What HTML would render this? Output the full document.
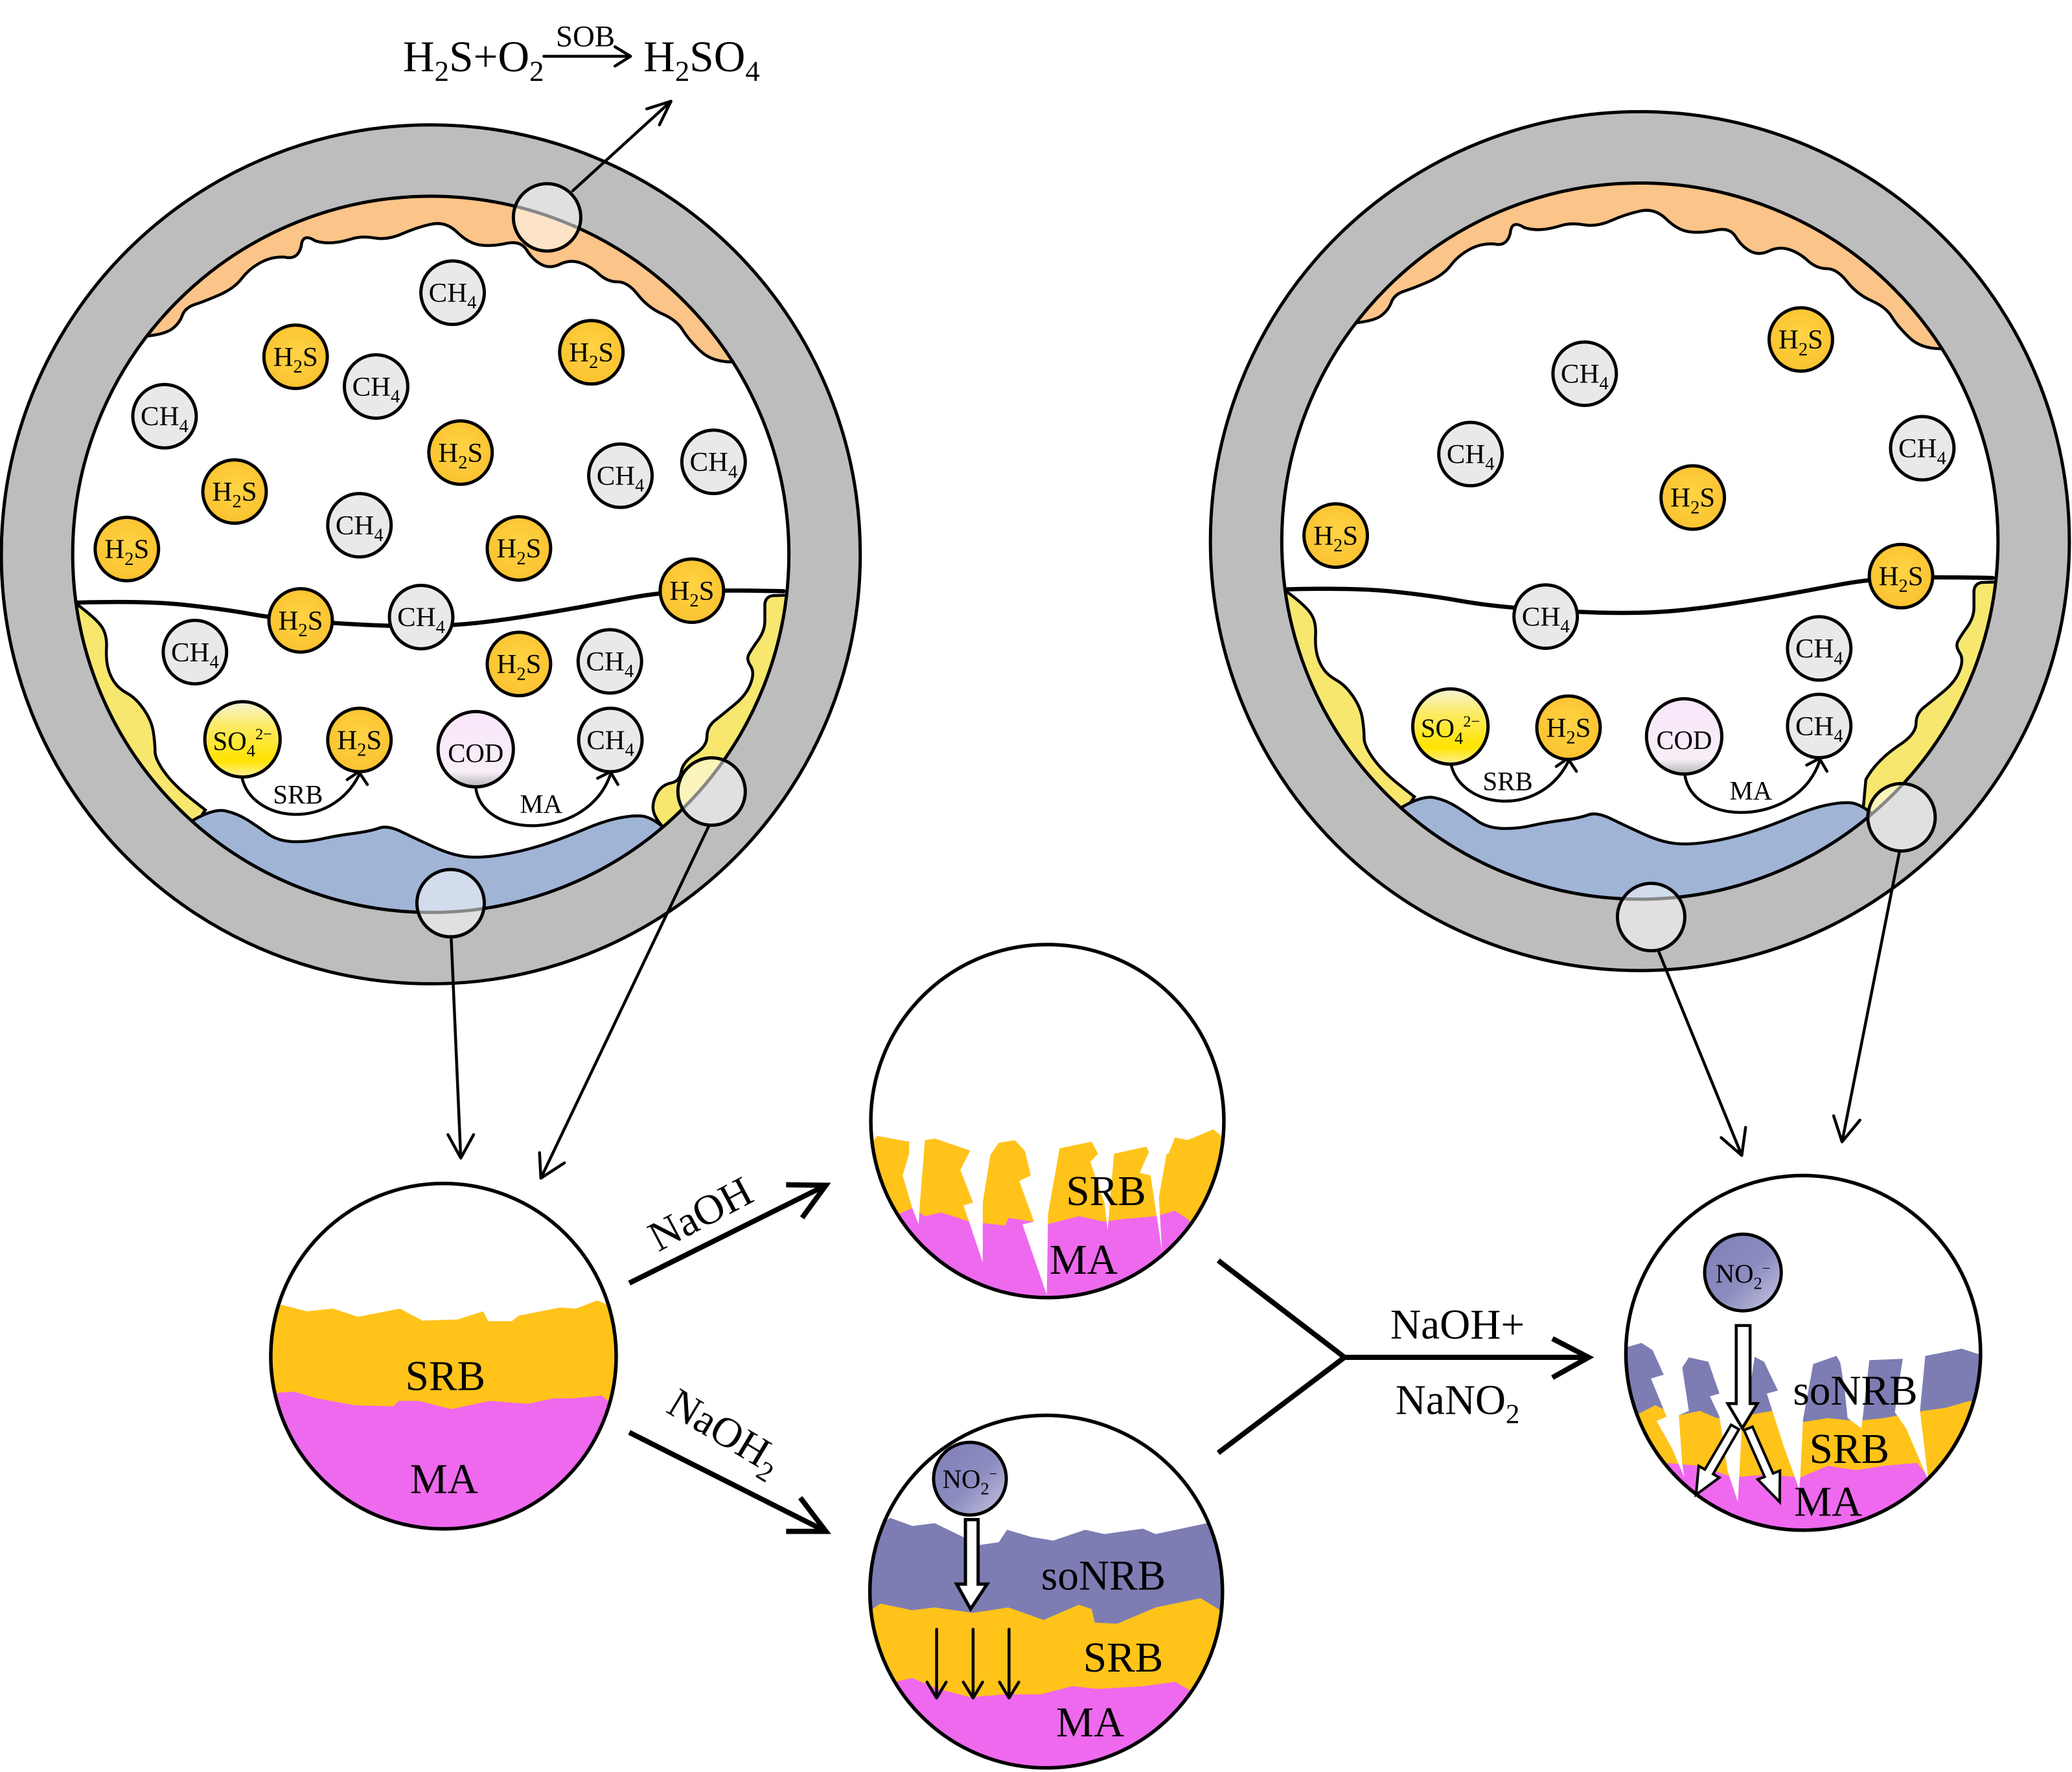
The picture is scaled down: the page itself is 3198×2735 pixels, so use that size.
<!DOCTYPE html>
<html><head><meta charset="utf-8"><style>
html,body{margin:0;padding:0;background:#fff}
svg{display:block}
svg *{vector-effect:non-scaling-stroke}
text{font-family:"Liberation Serif",serif;fill:#000}
.t{font-size:21px;text-anchor:middle}
.s{font-size:14px}
.b{font-size:32px;text-anchor:middle}
.m{font-size:20px;text-anchor:middle}
.c{fill:#e9e9e9;stroke:#000;stroke-width:5}
.h{fill:url(#hg);stroke:#000;stroke-width:5}
.l{fill:none;stroke:#000;stroke-width:4.5;stroke-linecap:round;stroke-linejoin:round}
.k{fill:none;stroke:#000;stroke-width:8;stroke-linejoin:miter}
.ol{fill:none;stroke:#000;stroke-width:5.5}
.mg{fill:#fff;fill-opacity:.53;stroke:#000;stroke-width:5}
.ar{fill:#fff;stroke:#000;stroke-width:5;stroke-linejoin:miter}
.srb{fill:#FFC31A}.ma{fill:#EE69EE}.so{fill:#7D7DB3}.w{fill:#fff}
</style></head><body>
<svg xmlns="http://www.w3.org/2000/svg" width="3198" height="2735" viewBox="0 0 1568 1341">
<defs>
<radialGradient id="hg" cx=".5" cy=".45" r=".6"><stop offset="0" stop-color="#FFD445"/><stop offset="1" stop-color="#FBC02D"/></radialGradient>
<linearGradient id="sg" x1="0" y1="0" x2="0" y2="1"><stop offset="0" stop-color="#f7f4d8"/><stop offset=".3" stop-color="#fbeb6a"/><stop offset=".78" stop-color="#ffe400"/><stop offset="1" stop-color="#fff09a"/></linearGradient>
<linearGradient id="cg" x1="0" y1="0" x2="0" y2="1"><stop offset="0" stop-color="#f8e6fa"/><stop offset=".8" stop-color="#f7eef8"/><stop offset="1" stop-color="#b5b5b5"/></linearGradient>
<linearGradient id="ng" x1="0" y1="0" x2="1" y2="1"><stop offset="0" stop-color="#7f7fb8"/><stop offset=".55" stop-color="#8c8cc0"/><stop offset="1" stop-color="#c8c8e2"/></linearGradient>
<clipPath id="c1"><circle cx="335.6" cy="1026.3" r="130.7"/></clipPath>
<clipPath id="c2"><circle cx="792.6" cy="848.4" r="133.6"/></clipPath>
<clipPath id="c3"><circle cx="791.7" cy="1204.5" r="133.4"/></clipPath>
<clipPath id="c4"><circle cx="1364.6" cy="1023.8" r="134.2"/></clipPath>
<g id="orange"><path fill="#FBC488" stroke="#000" stroke-width="4.5" d="M109.4 254.5Q124.8 253 130.2 248.9Q135.7 244.8 137.9 238.8Q140.1 232.7 147.8 230.3Q155.4 227.8 166.4 223Q177.3 218.1 182.8 210.9Q188.3 203.6 197 198.8Q205.8 193.9 215.6 194.6Q225.5 197 228 186Q229 176 238.6 182.3Q245.2 184.2 251.8 183.7Q258.3 183.2 266 180.8Q273.6 178.4 283.5 180.1Q293.3 181.8 304.2 177Q315.2 172.1 326.2 169.7Q337.1 167.2 345.9 175.7Q354.6 184.2 363.4 185.4Q372.1 186.6 383 184.2Q394 181.8 398.4 189Q402.8 196.3 409.4 200Q415.9 203.6 423.6 200Q431.2 196.3 438.9 198.8Q446.5 201.2 453.1 207.3Q459.7 213.3 467.4 213.3Q475 213.3 482.7 223Q490.3 232.7 501.3 237.6Q512.2 242.4 516.6 249.7Q521 256.9 529.8 265.4Q538.5 273.9 553.8 273.9L570 262L490 170L326 130L160 170L95 245Z"/></g>
<g id="yleft"><path fill="#F7E76E" stroke="#000" stroke-width="4.5" d="M59.1 458Q72.2 467.7 76.6 473.8Q81 479.9 80.6 489.6Q80.1 499.2 81.7 505.3Q83.2 511.4 86.5 516.2Q89.7 521 96.3 524.7Q102.9 528.3 108.8 536.8Q114.7 545.3 116 553.8Q117.3 562.3 117.3 568.4Q117.3 574.4 124.3 584.1Q131.3 593.8 143.4 603.5L155.4 613L147 625L120 625L50 520L40 458Z"/></g>
<g id="blue"><path fill="#A0B4D6" stroke="#000" stroke-width="4.5" d="M146.7 620.4Q162 611.7 170.8 613.7Q179.5 615.6 187.2 620.5Q194.8 625.3 202.5 630.9Q210.1 636.4 221 636.9Q232 637.4 243 635Q253.9 632.5 267 630.8Q280.2 629.1 286.8 626.7Q293.3 624.3 304.3 629.7Q315.2 635 328.4 641Q341.5 647 352.5 648.3Q363.4 649.5 378.7 647Q394 644.6 409.4 639.8Q424.7 635 440 628.5Q455.3 621.9 466.3 619.5Q477.2 617 484.9 617.5Q492.5 618 502.1 626.2L530 640L420 700L326 715L230 700L130 640Z"/></g>
<g id="wl"><path class="l" style="stroke-width:6.5" d="M59 456Q109 454.6 137.5 457.5Q166 460.5 186 464Q206 467.7 229 469.7Q252 471.6 275 472.8Q298 474 319.5 473.8Q341 473.6 361 471.4Q381 469.2 400.5 466Q420 463 440 459.3Q460 455.6 479.5 452Q499 448.4 523 447.4Q547 446.4 593 447.4"/></g>
<g id="ring"><path fill="#BDBDBD" fill-rule="evenodd" stroke="#000" stroke-width="5" d="M1 419.5a325 325 0 1 0 650 0a325 325 0 1 0 -650 0ZM55 419.5a271 271 0 1 0 542 0a271 271 0 1 0 -542 0Z"/></g>
<g id="curves">
<path class="l" d="M183 588C190 622 250 630 272 586M262.7 590L271.5 584L278 593.7"/>
<path class="l" d="M360 596C365 636 445 636 462 586M452.2 589L461.9 584L467.6 593.7"/>
</g>
</defs>
<rect width="1568" height="1341" fill="#fff"/>

<!-- left vessel -->
<circle cx="326" cy="419.5" r="285" fill="#fff"/>
<use href="#orange"/><use href="#yleft"/>
<path fill="#F7E76E" stroke="#000" stroke-width="4.5" d="M584.4 450.8Q578.8 452 578.8 458L578.8 470Q578.8 477.4 573.5 484.7Q568.3 492 566.5 495.6Q564.8 499.2 568 504Q571.3 508.9 568 517.4Q564.8 525.9 556 533.1Q547.2 540.4 541.1 545.2Q535 550.1 535 557.4Q535 564.7 525.8 570.7Q516.6 576.8 515.5 584Q514.4 591.3 507.9 592.5Q501.3 593.8 497.5 599.8Q493.8 605.9 494.2 612Q494.7 618 501.3 625.3L520 640L600 520L610 450Z"/>
<use href="#blue"/><use href="#wl"/><use href="#curves"/><use href="#ring"/>

<!-- right vessel -->
<circle cx="1241" cy="409.5" r="285" fill="#fff"/>
<g transform="translate(915,-10)">
<use href="#orange"/><use href="#yleft"/>
<path fill="#F7E76E" stroke="#000" stroke-width="4.5" d="M584.4 450.8Q578.8 452 578.8 458L578.8 470Q578.8 477.4 573.5 484.7Q568.3 492 566.5 495.6Q564.8 499.2 568 504Q571.3 508.9 568 517.4Q564.8 525.9 556 533.1Q547.2 540.4 541.1 545.2Q535 550.1 535 557.4Q535 564.7 525 572Q505 585 497 600L495 622L520 640L600 520L610 450Z"/>
<use href="#blue"/><use href="#wl"/><use href="#curves"/><use href="#ring"/>
</g>

<!-- left vessel bubbles -->
<g transform="translate(342.5,221.5)"><circle r="24" class="c"/><text class="t" y="7">CH<tspan class="s" dy="5">4</tspan></text></g>
<g transform="translate(284.6,292.5)"><circle r="24" class="c"/><text class="t" y="7">CH<tspan class="s" dy="5">4</tspan></text></g>
<g transform="translate(124.5,315)"><circle r="24" class="c"/><text class="t" y="7">CH<tspan class="s" dy="5">4</tspan></text></g>
<g transform="translate(469.5,360)"><circle r="24" class="c"/><text class="t" y="7">CH<tspan class="s" dy="5">4</tspan></text></g>
<g transform="translate(540,349.5)"><circle r="24" class="c"/><text class="t" y="7">CH<tspan class="s" dy="5">4</tspan></text></g>
<g transform="translate(272,397.5)"><circle r="24" class="c"/><text class="t" y="7">CH<tspan class="s" dy="5">4</tspan></text></g>
<g transform="translate(318.7,467)"><circle r="24" class="c"/><text class="t" y="7">CH<tspan class="s" dy="5">4</tspan></text></g>
<g transform="translate(147.5,493.5)"><circle r="24" class="c"/><text class="t" y="7">CH<tspan class="s" dy="5">4</tspan></text></g>
<g transform="translate(461.5,500.5)"><circle r="24" class="c"/><text class="t" y="7">CH<tspan class="s" dy="5">4</tspan></text></g>
<g transform="translate(461.9,560)"><circle r="24" class="c"/><text class="t" y="7">CH<tspan class="s" dy="5">4</tspan></text></g>
<g transform="translate(223.7,270)"><circle r="24" class="h"/><text class="t" y="7">H<tspan class="s" dy="5">2</tspan><tspan dy="-5">S</tspan></text></g>
<g transform="translate(447.5,266.6)"><circle r="24" class="h"/><text class="t" y="7">H<tspan class="s" dy="5">2</tspan><tspan dy="-5">S</tspan></text></g>
<g transform="translate(348.5,342.5)"><circle r="24" class="h"/><text class="t" y="7">H<tspan class="s" dy="5">2</tspan><tspan dy="-5">S</tspan></text></g>
<g transform="translate(177.5,372)"><circle r="24" class="h"/><text class="t" y="7">H<tspan class="s" dy="5">2</tspan><tspan dy="-5">S</tspan></text></g>
<g transform="translate(96,415.5)"><circle r="24" class="h"/><text class="t" y="7">H<tspan class="s" dy="5">2</tspan><tspan dy="-5">S</tspan></text></g>
<g transform="translate(392.7,415)"><circle r="24" class="h"/><text class="t" y="7">H<tspan class="s" dy="5">2</tspan><tspan dy="-5">S</tspan></text></g>
<g transform="translate(227.5,469.5)"><circle r="24" class="h"/><text class="t" y="7">H<tspan class="s" dy="5">2</tspan><tspan dy="-5">S</tspan></text></g>
<g transform="translate(523.6,447)"><circle r="24" class="h"/><text class="t" y="7">H<tspan class="s" dy="5">2</tspan><tspan dy="-5">S</tspan></text></g>
<g transform="translate(392.7,502.5)"><circle r="24" class="h"/><text class="t" y="7">H<tspan class="s" dy="5">2</tspan><tspan dy="-5">S</tspan></text></g>
<g transform="translate(272,560)"><circle r="24" class="h"/><text class="t" y="7">H<tspan class="s" dy="5">2</tspan><tspan dy="-5">S</tspan></text></g>
<g transform="translate(183.5,559.5)"><circle r="28.5" fill="url(#sg)" stroke="#000" stroke-width="5"/><text class="t" y="8" style="font-size:20px">SO<tspan class="s" dy="5" style="font-size:13px">4</tspan><tspan class="s" dy="-13" style="font-size:12px">2−</tspan></text></g>
<g transform="translate(360,567)"><circle r="28.5" fill="url(#cg)" stroke="#000" stroke-width="5"/><text class="t" y="9.5" style="font-size:20px">COD</text></g>
<text class="m" x="225.5" y="608">SRB</text>
<text class="m" x="409.5" y="615">MA</text>

<!-- right vessel bubbles -->
<g transform="translate(1199.2,282.8)"><circle r="24" class="c"/><text class="t" y="7">CH<tspan class="s" dy="5">4</tspan></text></g>
<g transform="translate(1112.8,343.6)"><circle r="24" class="c"/><text class="t" y="7">CH<tspan class="s" dy="5">4</tspan></text></g>
<g transform="translate(1454.7,339.2)"><circle r="24" class="c"/><text class="t" y="7">CH<tspan class="s" dy="5">4</tspan></text></g>
<g transform="translate(1169.7,466.6)"><circle r="24" class="c"/><text class="t" y="7">CH<tspan class="s" dy="5">4</tspan></text></g>
<g transform="translate(1376.7,490.7)"><circle r="24" class="c"/><text class="t" y="7">CH<tspan class="s" dy="5">4</tspan></text></g>
<g transform="translate(1376.7,549.4)"><circle r="24" class="c"/><text class="t" y="7">CH<tspan class="s" dy="5">4</tspan></text></g>
<g transform="translate(1362.8,256.9)"><circle r="24" class="h"/><text class="t" y="7">H<tspan class="s" dy="5">2</tspan><tspan dy="-5">S</tspan></text></g>
<g transform="translate(1281,376.5)"><circle r="24" class="h"/><text class="t" y="7">H<tspan class="s" dy="5">2</tspan><tspan dy="-5">S</tspan></text></g>
<g transform="translate(1010.8,405.3)"><circle r="24" class="h"/><text class="t" y="7">H<tspan class="s" dy="5">2</tspan><tspan dy="-5">S</tspan></text></g>
<g transform="translate(1438.6,436)"><circle r="24" class="h"/><text class="t" y="7">H<tspan class="s" dy="5">2</tspan><tspan dy="-5">S</tspan></text></g>
<g transform="translate(1187,550.7)"><circle r="24" class="h"/><text class="t" y="7">H<tspan class="s" dy="5">2</tspan><tspan dy="-5">S</tspan></text></g>
<g transform="translate(1097.6,549.8)"><circle r="28.5" fill="url(#sg)" stroke="#000" stroke-width="5"/><text class="t" y="8" style="font-size:20px">SO<tspan class="s" dy="5" style="font-size:13px">4</tspan><tspan class="s" dy="-13" style="font-size:12px">2−</tspan></text></g>
<g transform="translate(1274.5,557.3)"><circle r="28.5" fill="url(#cg)" stroke="#000" stroke-width="5"/><text class="t" y="9.5" style="font-size:20px">COD</text></g>
<text class="m" x="1141" y="598">SRB</text>
<text class="m" x="1325" y="605">MA</text>

<!-- magnifiers -->
<circle class="mg" cx="414" cy="164.5" r="25.5"/>
<circle class="mg" cx="538.5" cy="599" r="25.5"/>
<circle class="mg" cx="341" cy="683.5" r="25.5"/>
<circle class="mg" cx="1439" cy="618.5" r="25.5"/>
<circle class="mg" cx="1249.5" cy="694" r="25.5"/>

<!-- formula -->
<text x="305" y="54" style="font-size:33px">H<tspan dy="7" style="font-size:22px">2</tspan><tspan dy="-7">S+O</tspan><tspan dy="7" style="font-size:22px">2</tspan></text>
<text x="487" y="54" style="font-size:33px">H<tspan dy="7" style="font-size:22px">2</tspan><tspan dy="-7">SO</tspan><tspan dy="7" style="font-size:22px">4</tspan></text>
<text x="443" y="35" style="font-size:23px;text-anchor:middle">SOB</text>
<path class="l" d="M411.6 42.6H477.2M465.4 35.4L477.2 42.6L465.4 50"/>

<!-- connectors from magnifiers -->
<path class="l" d="M433.4 144.4L507.8 76.6M489.4 82.4L507.8 76.6L499 94.5"/>
<path class="l" d="M341.4 708.6L348.7 876.4M339 858.7L348.7 876.4L358.4 858.7"/>
<path class="l" d="M536.3 625.3L409.3 891.6M408.3 872.3L409.3 891.6L427.2 880"/>
<path class="l" d="M1254.9 719.3L1318.1 874.4M1302.5 860.9L1318.1 874.4L1321 853.2"/>
<path class="l" d="M1437.4 644.8L1394 864.1M1387.6 844.4L1394 864.1L1407.5 847.7"/>

<!-- thick arrows -->
<path class="k" d="M476.2 971L625 897M594.9 896.6L625 897L607 921.6"/>
<path class="k" d="M476.2 1084L625 1158.9M605.6 1133.4L625 1158.9L594.9 1158.9"/>
<path class="k" d="M921.9 953.9L1017.5 1027.2L921.9 1099.5M1017.5 1027.2H1202.2M1174.8 1013L1202.2 1027.2L1174.8 1042.5"/>
<text class="b" transform="translate(535,928) rotate(-28)">NaOH</text>
<text transform="translate(503,1068) rotate(31)" style="font-size:32px">NaOH<tspan dy="7" style="font-size:21px">2</tspan></text>
<text class="b" x="1103" y="1013">NaOH+</text>
<text class="b" x="1103" y="1070">NaNO<tspan dy="7" style="font-size:21px">2</tspan></text>

<!-- circle 1 -->
<circle cx="335.6" cy="1026.3" r="130.7" fill="#fff"/>
<g clip-path="url(#c1)">
<polygon class="srb" points="200,992 205.7,992.4 213,987.4 232.3,992.4 251.7,990.3 271.1,996.5 302.6,990.3 319.6,999.4 346.3,998.5 365.6,992.4 369.5,999.8 387.4,999.8 392.3,995.7 423.8,989.5 435.9,990.3 451.9,984.1 467.4,990.3 470,1160 200,1160"/>
<polygon class="ma" points="200,1060 210.5,1054 222.7,1053.2 239.6,1058.2 268.7,1063.5 297.8,1064.3 301.7,1060.2 317.2,1060.2 341.4,1066.4 370.5,1060.2 399.6,1062.3 419,1058.2 433.5,1058.2 455.3,1056.1 467.4,1066.4 470,1160 200,1160"/>
</g>
<circle class="ol" cx="335.6" cy="1026.3" r="130.7"/>
<text class="b" x="337" y="1052">SRB</text>
<text class="b" x="336" y="1130">MA</text>

<!-- circle 2 -->
<circle cx="792.6" cy="848.4" r="133.6" fill="#fff"/>
<g clip-path="url(#c2)"><g transform="translate(186.3,696.3) scale(.4847,.4112)">
<polygon class="srb" points="965,432 985,397 1030,407 1060,405 1075,402 1125,422 1160,435 1175,410 1200,405 1220,430 1270,420 1320,408 1330,430 1355,430 1405,417 1412,432 1440,430 1450,400 1470,405 1510,385 1525,400 1535,420 1535,720 965,720"/>
<polygon class="ma" points="1010,545 1020,540 1040,530 1060,545 1085,538 1130,555 1185,562 1190,548 1230,555 1250,560 1300,545 1340,555 1370,550 1420,545 1450,535 1470,550 1485,575 1535,720 965,720"/>
<polygon class="w" points="1035,400 1060,400 1052,520 1050,560 1040,530 1025,470 1035,430"/>
<polygon class="w" points="1132,410 1165,410 1150,520 1150,630 1120,525 1135,520 1115,460 1130,425"/>
<polygon class="w" points="1225,470 1207,480 1230,555 1212,560 1250,690 1252,540 1270,420 1240,380 1215,420"/>
<polygon class="w" points="1330,430 1318,445 1340,520 1345,570 1352,470 1355,430 1340,400"/>
<polygon class="w" points="1410,425 1395,465 1412,470 1430,610 1425,510 1440,410 1425,395"/>
</g></g>
<circle class="ol" cx="792.6" cy="848.4" r="133.6"/>
<text class="b" x="837" y="912">SRB</text>
<text class="b" x="820" y="964">MA</text>

<!-- circle 3 -->
<circle cx="791.7" cy="1204.5" r="133.4" fill="#fff"/>
<g clip-path="url(#c3)"><g transform="translate(186.3,696.3) scale(.4847,.4112)">
<polygon class="so" points="960,1130 985,1120 1005,1100 1040,1115 1075,1110 1110,1130 1145,1150 1175,1145 1188,1122 1225,1135 1260,1142 1310,1122 1340,1130 1400,1120 1420,1130 1500,1110 1535,1130 1535,1570 960,1570"/>
<polygon class="srb" points="960,1275 975,1270 990,1258 1040,1270 1075,1265 1135,1275 1190,1265 1245,1288 1300,1260 1320,1268 1325,1293 1360,1295 1420,1265 1490,1248 1535,1280 1535,1570 960,1570"/>
<polygon class="ma" points="1005,1405 1020,1400 1040,1395 1080,1415 1130,1430 1185,1425 1240,1425 1290,1410 1330,1415 1400,1410 1450,1402 1470,1415 1495,1445 1535,1570 960,1570"/>
</g></g>
<circle class="ol" cx="791.7" cy="1204.5" r="133.4"/>
<path class="l" d="M708.8 1233V1285M701.5 1273L708.8 1285L716 1273M736.4 1233V1285M729 1273L736.4 1285L743.6 1273M763.6 1233V1285M756.4 1273L763.6 1285L771 1273"/>
<polygon class="ar" points="730.6,1150 740.2,1150 740.2,1198.8 747,1198.8 734.5,1217.7 724,1198.8 730.6,1198.8"/>
<circle cx="734" cy="1119" r="27.5" fill="url(#ng)" stroke="#000" stroke-width="5"/>
<text class="t" x="734" y="1126" style="font-size:20px">NO<tspan class="s" dy="5" style="font-size:13px">2</tspan><tspan class="s" dy="-12" style="font-size:11px">−</tspan></text>
<text class="b" x="835" y="1203">soNRB</text>
<text class="b" x="850" y="1265">SRB</text>
<text class="b" x="825" y="1314">MA</text>

<!-- circle 4 -->
<circle cx="1364.6" cy="1023.8" r="134.2" fill="#fff"/>
<g clip-path="url(#c4)"><g transform="translate(907.1,833.5) scale(.42152,.21889)">
<polygon class="so" points="768,850 795,835 815,860 835,945 865,930 880,885 915,900 935,1010 995,880 1015,900 1040,1000 1100,910 1145,880 1160,930 1200,895 1265,890 1305,880 1370,855 1410,880 1420,1500 750,1500 750,860"/>
<polygon class="srb" points="780,1085 790,1080 820,1050 845,1075 862,1085 900,1070 930,1095 1000,1080 1030,1070 1080,1110 1130,1095 1180,1105 1230,1095 1300,1070 1340,1060 1385,1035 1410,1050 1420,1500 750,1500"/>
<polygon class="ma" points="830,1255 840,1250 900,1260 960,1300 1020,1290 1080,1300 1130,1260 1180,1275 1230,1260 1290,1250 1310,1300 1420,1500 750,1500"/>
<polygon class="w" points="830,925 868,918 880,1070 862,1085 868,1250 872,1300 850,1200 822,1105 840,1090 812,958 835,945"/>
<polygon class="w" points="915,880 1000,860 985,1050 975,1130 968,1385 950,1280 935,1090 918,1020 935,1010"/>
<polygon class="w" points="1015,870 1105,890 1085,1100 1080,1300 1078,1340 1050,1190 1020,1010 1040,1000"/>
<polygon class="w" points="1150,880 1205,880 1190,1130 1165,1095 1160,1000"/>
<polygon class="w" points="1265,880 1305,870 1295,1070 1310,1310 1270,1130 1250,1075 1255,1000"/>
</g></g>
<circle class="ol" cx="1364.6" cy="1023.8" r="134.2"/>
<circle cx="1319" cy="963" r="29" fill="url(#ng)" stroke="#000" stroke-width="5"/>
<text class="t" x="1319" y="970.5" style="font-size:20px">NO<tspan class="s" dy="5" style="font-size:13px">2</tspan><tspan class="s" dy="-12" style="font-size:11px">−</tspan></text>
<polygon class="ar" style="stroke-width:4" points="1316,1081.7 1296.4,1115.5 1301.1,1118.2 1283.5,1131.2 1285.5,1109.4 1290.2,1112.1 1310,1078.3"/>
<polygon class="ar" style="stroke-width:4" points="1326.2,1079.7 1341.8,1115 1347,1113 1346.8,1136.7 1330.2,1119.6 1335.4,1117.6 1319.8,1082.3"/>
<polygon class="ar" style="stroke-width:4.5" points="1313.9,1003.1 1324.4,1003.1 1324.4,1062.2 1329.9,1062.2 1318.5,1080.8 1307.5,1062.2 1313.9,1062.2"/>
<text class="b" x="1404" y="1063">soNRB</text>
<text class="b" x="1399.5" y="1107">SRB</text>
<text class="b" x="1383.5" y="1147">MA</text>
</svg>
</body></html>
